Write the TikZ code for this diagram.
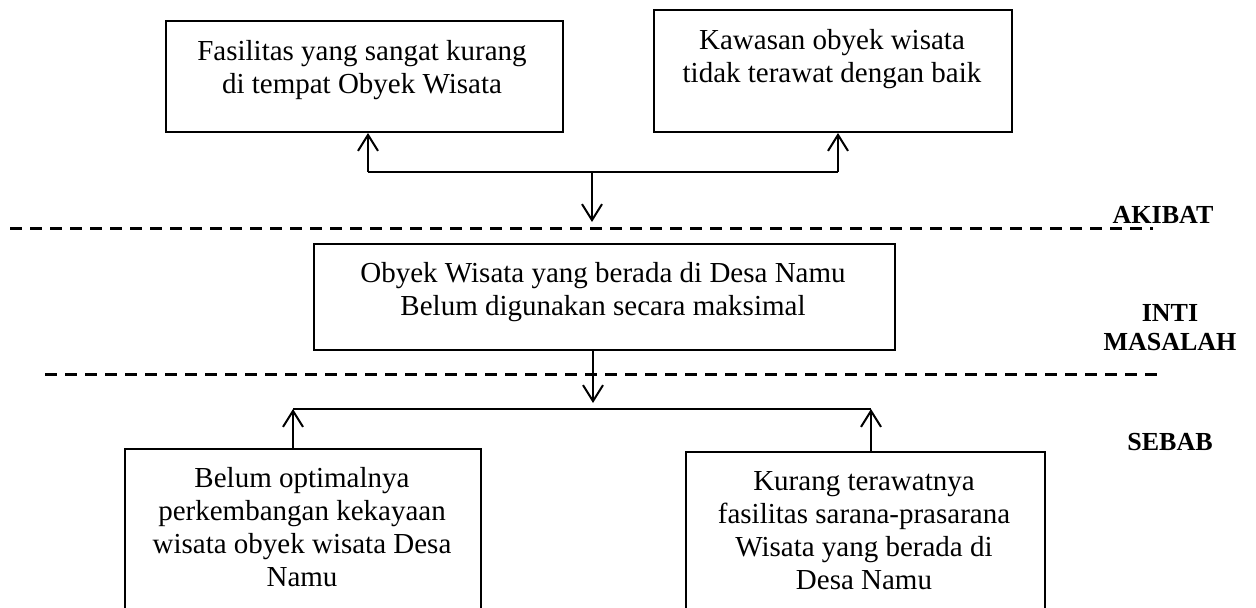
\documentclass[tikz,border=0pt]{standalone}
\usepackage{fontspec}
\setmainfont{Liberation Serif}
\usetikzlibrary{arrows.meta}
\begin{document}
\begin{tikzpicture}[x=0.5pt,y=-0.5pt,
  box/.style={draw, line width=1pt, rectangle, inner sep=0pt, anchor=north west},
  txt/.style={align=center, font=\fontsize{14.5}{16.5}\selectfont, inner sep=0pt},
  lbl/.style={align=center, font=\fontsize{13}{14.5}\selectfont\bfseries, inner sep=0pt},
  link/.style={line width=1pt},
  arr/.style={link, -{Straight Barb[length=8pt,width=10pt]}},
  sep/.style={line width=1.5pt, dash pattern=on 6pt off 4pt}]
\useasboundingbox (0,0) rectangle (1256,607);
\clip (0,0) rectangle (1256,607);

% effects (top row)
\node[box, minimum width=198.5pt, minimum height=55.5pt] (b1) at (165,20) {};
\node[txt] (t1) at (362,70) {Fasilitas yang sangat kurang\\di tempat Obyek Wisata};
\node[box, minimum width=179pt, minimum height=61pt] (b2) at (653,9) {};
\node[txt] (t2) at (832,59) {Kawasan obyek wisata\\tidak terawat dengan baik};

% core problem
\node[box, minimum width=290.5pt, minimum height=53pt] (b3) at (313,243) {};
\node[txt] (t3) at (603,292) {Obyek Wisata yang berada di Desa Namu\\Belum digunakan secara maksimal};

% causes (bottom row, running past the lower edge)
\node[box, minimum width=178pt, minimum height=120pt] (b4) at (124,448) {};
\node[txt] (t4) at (302,527) {Belum optimalnya\\perkembangan kekayaan\\wisata obyek wisata Desa\\Namu};
\node[box, minimum width=179.5pt, minimum height=120pt] (b5) at (685,451) {};
\node[txt] (t5) at (864,531) {Kurang terawatnya\\fasilitas sarana-prasarana\\Wisata yang berada di\\Desa Namu};

% section separators
\draw[sep] (10,228) -- (1153,228);
\draw[sep] (45,374) -- (1160,374);

% section labels
\node[lbl] (l1) at (1163,215) {AKIBAT};
\node[lbl] (l2) at (1170,328) {INTI\\MASALAH};
\node[lbl] (l3) at (1170,442) {SEBAB};

% upper connectors
\coordinate (jl) at (368,172);
\coordinate (jr) at (838,172);
\coordinate (jt) at (592,172);
\coordinate (dt) at (592,222);
\draw[link] (jl) -- (jr);
\draw[arr] (jl) -- (jl |- b1.south);
\draw[arr] (jr) -- (jr |- b2.south);
\draw[arr] (jt) -- (dt);

% lower connectors
\coordinate (db) at (593,403);
\coordinate (bl) at (293,409);
\coordinate (br) at (871,409);
\draw[arr] (db |- b3.south) -- (db);
\draw[link] (bl) -- (br);
\draw[arr] (bl |- b4.north) -- (bl);
\draw[arr] (br |- b5.north) -- (br);
\end{tikzpicture}
\end{document}
